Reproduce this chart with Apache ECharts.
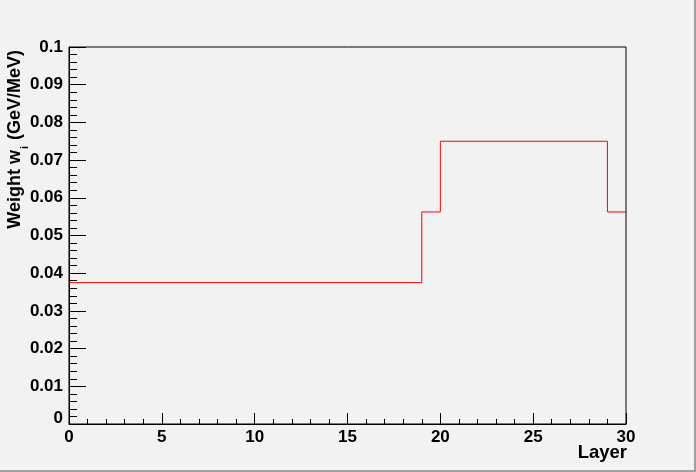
<!DOCTYPE html>
<html>
<head>
<meta charset="utf-8">
<script src="https://cdn.jsdelivr.net/npm/echarts@6/dist/echarts.min.js"></script>
<style>
html,body{margin:0;padding:0;background:#f2f2f2;}
#wrap{position:absolute;left:0;top:0;width:694px;height:470px;border-right:2px solid #a0a0a0;border-bottom:2px solid #a0a0a0;}
#chart{position:absolute;left:0;top:0;width:696px;height:472px;}
</style>
</head>
<body>
<div id="wrap"></div>
<div id="chart"></div>
<script>
// Histogram bin edges (Layer) and weights (GeV/MeV)
const binEdges = [0, 19, 20, 29, 30];
const weights = [0.0375, 0.05625, 0.075, 0.05625];
const xTitle = 'Layer';
const yTitleMain = 'Weight w';
const yTitleSub = 'i';
const yTitleUnit = ' (GeV/MeV)';

const stepData = [];
for (let i = 0; i < weights.length; i++) stepData.push([binEdges[i], weights[i]]);
stepData.push([binEdges[binEdges.length - 1], weights[weights.length - 1]]);

const font = '"Liberation Sans", Arial, Helvetica, sans-serif';
const chart = echarts.init(document.getElementById('chart'), null, {renderer: 'canvas'});
const G = {left: 69, right: 70, top: 47, bottom: 48};
chart.setOption({
  backgroundColor: 'transparent',
  animation: false,
  grid: {left: G.left, right: G.right, top: G.top, bottom: G.bottom, show: true, borderColor: '#000', borderWidth: 1, backgroundColor: 'transparent'},
  xAxis: {
    type: 'value', min: 0, max: 30, interval: 5,
    axisLine: {lineStyle: {color: '#000', width: 1}},
    axisTick: {inside: true, length: 11, lineStyle: {color: '#000'}},
    minorTick: {show: true, splitNumber: 5, length: 5, lineStyle: {color: '#000'}},
    splitLine: {show: false},
    axisLabel: {color: '#000', fontFamily: font, fontWeight: 'bold', fontSize: 17, margin: 5}
  },
  yAxis: {
    type: 'value', min: 0, max: 0.1, interval: 0.01,
    axisLine: {lineStyle: {color: '#000', width: 1}},
    axisTick: {inside: true, length: 17, lineStyle: {color: '#000'}},
    minorTick: {show: true, splitNumber: 5, length: 8, lineStyle: {color: '#000'}},
    splitLine: {show: false},
    axisLabel: {color: '#000', fontFamily: font, fontWeight: 'bold', fontSize: 17, margin: 6,
      formatter: v => v === 0 ? '{z|0}' : String(+v.toFixed(2)),
      rich: {z: {fontFamily: font, fontWeight: 'bold', fontSize: 17, color: '#000', padding: [0, 0, 12, 0]}}}
  },
  graphic: [{
    type: 'text', x: 6, y: 50, rotation: Math.PI / 2,
    style: {
      text: '{a|' + yTitleMain + '}{s|' + yTitleSub + '}{a|' + yTitleUnit + '}',
      align: 'right', verticalAlign: 'top',
      rich: {
        a: {fontFamily: font, fontWeight: 'bold', fontSize: 18, fill: '#000'},
        s: {fontFamily: font, fontWeight: 'bold', fontSize: 11, fill: '#000', verticalAlign: 'bottom', padding: [0, 1, -6, 1]}
      }
    }
  }, {
    type: 'text', x: 627, y: 443,
    style: {text: xTitle, align: 'right', verticalAlign: 'top', fontFamily: font, fontWeight: 'bold', fontSize: 18.5, fill: '#000'}
  }],
  series: [{
    type: 'line', step: 'end', data: stepData, showSymbol: false, symbol: 'none',
    lineStyle: {color: '#ff0000', width: 1}, clip: true
  }]
});
</script>
</body>
</html>
